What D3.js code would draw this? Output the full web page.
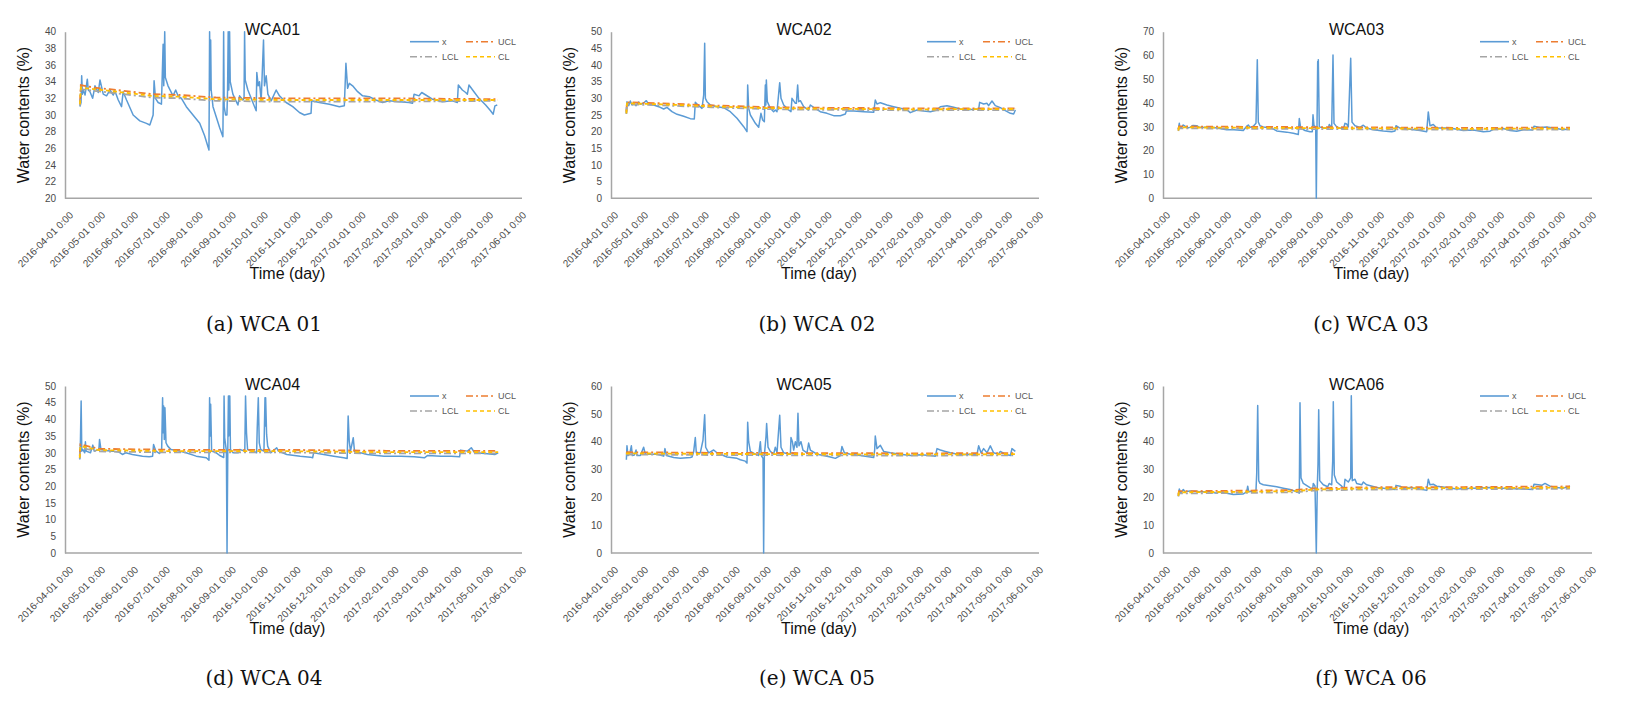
<!DOCTYPE html>
<html><head><meta charset="utf-8">
<script src="https://cdn.jsdelivr.net/npm/d3@7"></script>
<style>body{margin:0;background:#fff}svg{display:block}</style>
</head><body><svg id="c" width="1646" height="719"></svg>
<script>
// ---------- DATA (x = day offset from 2016-04-01 0:00, value = water content %) ----------
const monthLabels = ["2016-04-01 0:00","2016-05-01 0:00","2016-06-01 0:00","2016-07-01 0:00","2016-08-01 0:00","2016-09-01 0:00","2016-10-01 0:00","2016-11-01 0:00","2016-12-01 0:00","2017-01-01 0:00","2017-02-01 0:00","2017-03-01 0:00","2017-04-01 0:00","2017-05-01 0:00","2017-06-01 0:00"];
const titles = ["WCA01","WCA02","WCA03","WCA04","WCA05","WCA06"];
const captions = ["(a) WCA 01","(b) WCA 02","(c) WCA 03","(d) WCA 04","(e) WCA 05","(f) WCA 06"];
const legendNames = ["x","UCL","LCL","CL"];

const yTicks01 = [20,22,24,26,28,30,32,34,36,38,40];
const yTicks02 = [0,5,10,15,20,25,30,35,40,45,50];
const yTicks03 = [0,10,20,30,40,50,60,70];
const yTicks04 = [0,5,10,15,20,25,30,35,40,45,50];
const yTicks05 = [0,10,20,30,40,50,60];
const yTicks06 = [0,10,20,30,40,50,60];

const wca01 = [[12.2,31.0],[13.2,31.5],[13.8,34.7],[14.5,32.5],[15.3,33.0],[17,32.4],[19.1,34.3],[20,33.0],[21.6,32.8],[24.1,32.0],[26.3,33.5],[29.4,32.7],[31.0,34.2],[34.1,32.5],[37.2,32.3],[40.3,33.0],[43.5,32.4],[45.0,32.9],[48.2,31.8],[51.3,31.0],[52.8,32.8],[56.0,31.8],[62.2,30.0],[68.5,29.3],[74.7,29.0],[77.9,28.8],[81.0,30.0],[81.9,34.1],[83.2,32.0],[85.7,31.5],[88.8,31.3],[90.4,38.5],[91.0,33.5],[91.9,40.0],[92.5,34.5],[95.0,33.5],[99.7,32.3],[102.2,33.0],[104.4,32.3],[107.6,32.0],[112.2,31.0],[118.5,30.0],[124.8,29.0],[129.4,27.5],[133.5,25.8],[134.1,40.0],[134.6,33],[135.1,39.0],[135.6,33.0],[137.3,31.0],[143.5,28.5],[146.6,27.4],[147.0,33],[147.3,40.0],[147.8,31],[149.1,30.0],[150.4,30.0],[151.0,33],[151.6,40.0],[152.2,33],[152.9,40.0],[153.5,34.0],[156.0,32.5],[160.7,31.2],[162.3,32.3],[165.4,31.8],[166.5,32],[167.0,40.0],[167.6,34.2],[170.1,33.0],[173.2,32.0],[177.9,30.5],[178.5,35.1],[179.8,33.5],[181.0,34.0],[182.6,31.7],[184.8,39.0],[185.7,33.5],[187.3,34.7],[188.9,32.5],[192.0,31.7],[196.7,33.0],[199.8,32.3],[206.1,31.5],[212.3,31.0],[218.6,30.3],[223.2,30.0],[229.5,30.2],[230.1,31.7],[237.3,31.5],[246.7,31.3],[256.1,31.0],[260.8,31.1],[262.3,36.2],[263.9,33.2],[265.5,33.8],[268.6,33.5],[273.3,32.8],[278.0,32.3],[284.2,32.2],[290.5,31.8],[296.7,31.5],[303.0,31.7],[312.4,31.6],[321.7,31.5],[324.9,31.4],[326.4,32.5],[331.1,32.3],[333.6,32.7],[337.4,32.4],[343.6,31.9],[353.0,31.6],[362.4,31.7],[367.1,31.5],[368.0,33.6],[371.8,33.0],[374.9,32.7],[376.5,32.5],[378.0,33.6],[382.7,32.8],[387.4,32.0],[393.7,31.2],[398.3,30.5],[400.8,30.1],[402.4,31.1],[404.6,31.2]];
const wca02 = [[14.4,25.5],[15.0,29.0],[16.7,27.8],[18.4,29.2],[20.0,28.0],[21.7,28.7],[24.1,27.8],[26.7,28.9],[28.4,28.2],[31.7,28.6],[34.4,29.3],[36.8,28.2],[41.8,28.0],[46.8,27.5],[51.8,26.8],[55.1,27.3],[60.1,26.0],[65.2,25.2],[71.8,24.6],[78.5,23.9],[82.5,23.8],[83.5,28.8],[86.9,27.8],[90.2,27.0],[91.9,31.0],[92.9,46.5],[93.6,30.0],[95.2,29.0],[98.6,28.0],[105.2,27.5],[111.9,27.2],[118.6,26.0],[125.3,24.0],[132.0,21.5],[135.3,20.0],[136.0,34.0],[137.0,27.0],[138.7,25.0],[143.7,22.5],[147.0,21.3],[149.3,25.5],[151.0,23.5],[152.7,23.0],[153.7,34.0],[154.2,28],[154.7,35.5],[155.7,29.0],[158.7,27.0],[162.0,26.0],[163.7,26.5],[165.4,26.0],[168.1,34.7],[169.4,30.0],[172.1,28.0],[177.1,26.5],[179.4,26.0],[180.4,30.0],[183.8,28.5],[184.8,28.5],[186.1,34.0],[187.1,29.0],[188.8,29.3],[192.1,27.5],[197.1,26.5],[198.8,28.0],[202.1,27.3],[208.8,26.0],[215.5,25.5],[222.2,24.8],[228.9,24.8],[233.9,25.3],[234.9,26.2],[242.2,26.2],[252.3,26.0],[262.3,25.8],[263.9,29.5],[265.6,28.3],[269.0,28.7],[275.6,28.0],[282.3,27.5],[289.0,27.0],[295.7,26.5],[299.0,25.7],[305.7,26.5],[312.4,26.2],[319.1,26.0],[325.8,26.5],[329.1,27.5],[335.8,27.8],[342.5,27.3],[349.1,26.8],[355.8,26.5],[362.5,26.7],[367.5,26.7],[368.5,28.8],[372.5,28.3],[375.9,28.5],[377.5,27.8],[380.9,29.2],[384.2,27.8],[389.2,27.2],[394.3,26.3],[399.3,25.5],[402.6,25.3],[404.3,26.5]];
const wca03 = [[14.3,29.0],[15.3,31.5],[16.0,29.5],[17.7,29.8],[19,30.8],[21.0,30.3],[24,29.6],[26.0,29.8],[29,30.6],[32.7,30.5],[35,29.9],[39.3,29.8],[45,30.1],[52.7,29.5],[62.7,28.8],[70,28.8],[79.3,28.5],[82.7,30.3],[84.3,30.8],[86.0,29.8],[89.3,30.3],[92.0,31.5],[93.3,58.2],[94.3,32.0],[96.0,30.5],[99.3,30.0],[107.7,29.5],[112.7,28.3],[122.7,27.8],[129.3,27.3],[134.3,26.8],[135.3,33.5],[136.7,29.5],[141.0,28.5],[146.0,28.0],[148.3,28.0],[149.0,35.1],[150.0,30.5],[151.7,30.0],[152.3,0],[153.0,30.0],[153.7,57.5],[154.0,50],[154.3,58.2],[155.3,30.0],[159.3,29.5],[164.3,29.5],[165.3,31.0],[167.7,29.5],[169.0,60.2],[170.0,31.5],[172.7,30.0],[179.3,29.0],[181.0,31.5],[182.7,31.2],[184.3,30.0],[186.7,58.8],[188.0,32.0],[191.0,30.5],[196.0,29.8],[199.3,30.7],[202.7,29.5],[209.3,28.8],[219.3,28.3],[227.7,28.0],[231.0,28.3],[232.0,30.5],[236.0,29.5],[246.0,29.0],[256.0,28.5],[262.7,28.0],[264.3,36.3],[266.0,30.5],[269.3,31.0],[272.7,29.5],[286.0,29.5],[292.7,29.0],[299.3,28.5],[309.3,28.7],[319.3,28.0],[326.0,28.2],[329.3,29.0],[339.3,29.3],[346.0,28.5],[352.7,28.2],[359.3,28.8],[368.7,28.7],[370.0,30.3],[376.0,29.8],[382.7,30.0],[392.7,29.3],[399.3,28.8],[406.0,29.2]];
const wca04 = [[12.0,28.0],[12.6,33.0],[13.3,45.5],[13.9,30.5],[14.8,31.0],[16.7,30.0],[17.3,33.3],[18.0,30.5],[22.1,30.0],[24.3,32.3],[25.6,30.5],[30.0,31.0],[30.6,34.0],[31.9,31.0],[36.3,30.7],[42.6,30.5],[48.9,30.2],[52.1,29.5],[55.2,30.0],[61.5,29.5],[71.0,29.0],[77.3,28.8],[80.5,29.0],[81.4,32.5],[83.6,30.5],[86.8,29.8],[89.0,30.5],[89.9,46.5],[90.4,36],[90.9,44.0],[91.5,34],[92.1,43.5],[93.1,33.0],[94.7,32.0],[97.8,31.0],[105.7,30.5],[112.0,30.0],[121.5,29.0],[131.0,28.5],[133.5,27.8],[134.1,46.5],[134.6,35],[135.1,44.5],[136.0,30.5],[140.4,30.0],[143.6,29.2],[147.4,28.6],[147.7,47.0],[148.3,34.5],[149.9,30.5],[150.5,0],[151.2,30.5],[151.8,47.0],[152.1,35],[152.4,47.0],[153.1,47.0],[153.7,31.0],[156.2,30.0],[160.9,30.0],[162.5,31.0],[167.2,30.5],[167.9,47.0],[168.8,36.0],[169.8,31.0],[175.1,30.5],[178.3,30.0],[178.9,37.5],[179.9,46.5],[180.8,33.0],[182.1,31.0],[185.2,30.5],[186.2,46.5],[186.5,38],[186.8,46.5],[187.7,35.5],[188.7,32.0],[191.5,30.0],[197.2,31.5],[198.8,30.5],[206.7,29.5],[219.3,29.0],[228.8,28.7],[231.0,28.5],[231.9,30.0],[241.4,29.5],[250.9,29.0],[260.3,28.5],[263.5,28.3],[264.4,41.0],[265.4,33.5],[266.6,30.5],[269.2,34.5],[270.4,30.3],[276.1,30.0],[282.4,29.5],[298.2,29.0],[314.0,29.0],[326.6,28.8],[336.1,28.5],[339.2,29.2],[351.8,29.0],[361.3,29.0],[369.2,28.8],[370.1,30.8],[376.6,30.5],[380.2,31.5],[383.4,30.0],[392.9,29.8],[402.3,29.5],[405.5,30.0]];
const wca05 = [[14.4,33.5],[15.0,38.5],[16.0,35.0],[17.7,35.5],[19.4,38.5],[20.4,35.0],[22.4,35.2],[24.1,37.0],[25.1,35.0],[28.4,35.0],[31.7,38.0],[33.4,35.5],[38.4,35.5],[45.1,35.5],[51.8,34.8],[53.1,37.5],[54.5,35.0],[61.8,34.3],[68.5,34.0],[78.5,34.3],[80.2,34.5],[81.9,36.5],[83.5,41.5],[84.5,36.0],[88.5,36.0],[91.2,40.5],[92.9,49.7],[93.9,38.0],[96.9,36.0],[101.9,37.0],[105.2,36.0],[108.6,35.5],[115.3,34.5],[125.3,34.0],[128.6,33.5],[133.6,33.0],[135.3,32.3],[136.0,47.0],[137.0,40.0],[138.7,36.5],[143.7,35.5],[147.0,35.0],[148.7,40.0],[149.7,35.0],[151.4,34.0],[152.0,0],[152.7,35.0],[154.4,42.0],[155.0,46.5],[156.4,38.0],[158.7,36.5],[162.0,35.5],[163.7,38.0],[165.4,36.0],[168.1,49.5],[169.4,38.0],[172.1,36.0],[178.8,35.5],[179.4,41.5],[180.8,40.0],[182.1,37.0],[183.8,40.0],[185.4,38.0],[186.4,50.2],[187.4,38.5],[189.4,40.0],[191.4,37.0],[195.5,36.0],[197.1,39.5],[198.8,37.0],[205.5,35.5],[212.2,35.0],[218.8,34.5],[223.9,34.0],[228.9,35.0],[230.5,38.3],[232.9,36.0],[238.9,35.5],[248.9,35.0],[258.9,34.5],[262.3,34.3],[263.3,37.0],[263.9,42.0],[265.6,37.5],[269.0,38.7],[272.3,36.5],[279.0,36.0],[289.0,35.5],[299.0,35.0],[309.1,35.3],[319.1,35.0],[324.1,34.8],[325.8,37.5],[329.1,37.0],[334.1,36.5],[339.1,36.0],[349.1,35.3],[359.2,35.5],[365.8,35.3],[367.5,38.5],[369.9,36.0],[372.5,37.5],[375.9,36.0],[379.2,38.5],[382.5,36.0],[387.5,35.5],[389.2,36.5],[394.3,35.5],[399.3,35.0],[400.9,37.5],[404.3,36.5]];
const wca06 = [[14.3,20.5],[15.3,23.0],[16.7,21.5],[19.3,22.8],[21.0,22.0],[26.0,22.3],[36.0,22.0],[46.0,22.0],[52.7,21.5],[56.0,22.0],[62.7,21.5],[69.3,21.0],[79.3,21.2],[82.7,22.0],[83.7,24.0],[84.7,22.0],[89.3,22.3],[92.0,22.5],[92.7,28.5],[93.7,53.0],[94.7,26.0],[96.0,25.0],[99.3,24.5],[106.0,24.2],[112.7,23.8],[119.3,23.3],[126.0,22.8],[132.7,22.0],[135.3,21.5],[136.0,54.0],[137.0,27.0],[139.3,25.0],[146.0,23.5],[148.7,23.0],[149.3,25.0],[151.0,24.0],[152.3,0],[153.3,24.0],[154.0,32.0],[154.7,51.5],[155.7,26.0],[159.3,24.5],[163.7,23.8],[165.3,25.0],[167.7,24.5],[168.7,33.0],[169.3,54.3],[170.3,28.0],[172.7,25.5],[177.7,24.0],[180.0,23.0],[181.0,26.5],[184.3,25.5],[186.7,27.0],[187.3,56.5],[188.3,26.0],[191.0,26.5],[192.7,25.0],[197.7,24.5],[199.3,25.5],[202.7,24.5],[212.7,23.5],[226.0,23.0],[231.0,22.8],[232.0,24.3],[236.0,24.0],[239.3,23.3],[246.0,23.5],[256.0,23.0],[262.7,22.5],[264.3,26.5],[266.0,24.5],[269.3,24.7],[272.7,24.0],[282.7,23.5],[292.7,23.0],[309.3,23.3],[326.0,23.5],[342.7,23.2],[359.3,23.0],[368.7,22.8],[370.0,24.7],[374.3,24.5],[377.7,24.3],[381.0,25.0],[386.0,24.0],[392.7,23.5],[399.3,23.3],[406.0,24.0]];

// control limits (day offsets and values)
const limDays01 = [12.2,13.0,25,40,60,80,106,140,200,300,405];
const cl01  = [31.3,33.3,33.1,32.9,32.6,32.3,32.2,31.9,31.8,31.8,31.8];
const ucl01 = [31.6,33.6,33.3,33.1,32.8,32.5,32.4,32.1,32.0,32.0,31.9];
const lcl01 = [31.1,33.1,32.9,32.7,32.4,32.1,32.0,31.7,31.6,31.6,31.7];
const limDays02 = [14.4,15,50,100,150,200,300,405];
const cl02  = [25.5,28.5,28.2,27.6,27.1,26.9,26.7,26.8];
const ucl02 = [26.0,28.8,28.5,27.9,27.4,27.2,27.0,27.0];
const lcl02 = [25.3,28.2,27.9,27.3,26.8,26.6,26.4,26.5];
const limDays03 = [14.3,15,100,200,300,406];
const cl03  = [28.5,29.8,29.6,29.4,29.2,29.3];
const ucl03 = [29.0,30.2,30.0,29.8,29.6,29.7];
const lcl03 = [28.3,29.4,29.2,29.0,28.8,28.9];
const limDays04 = [12,12.6,30,100,200,300,405.5];
const cl04  = [28.5,32.0,30.8,30.5,30.5,30.2,30.2];
const ucl04 = [29.0,32.5,31.2,30.9,30.9,30.6,30.6];
const lcl04 = [28.2,31.5,30.4,30.1,30.1,29.8,29.8];
const limDays05 = [14.4,15,100,200,300,404];
const cl05  = [35.5,35.8,35.6,35.5,35.4,35.5];
const ucl05 = [36.0,36.2,36.0,35.9,35.8,35.9];
const lcl05 = [35.2,35.4,35.2,35.1,35.0,35.1];
const limDays06 = [14.3,15,80,130,150,200,300,406];
const cl06  = [20.5,21.8,22.0,22.2,22.8,23.2,23.3,23.5];
const ucl06 = [21.0,22.2,22.4,22.6,23.2,23.6,23.7,23.9];
const lcl06 = [20.3,21.4,21.6,21.8,22.4,22.8,22.9,23.1];

// ---------- DRAWING ----------
const panels = [
  {x:wca01, lim:limDays01, cl:cl01, ucl:ucl01, lcl:lcl01, ticks:yTicks01},
  {x:wca02, lim:limDays02, cl:cl02, ucl:ucl02, lcl:lcl02, ticks:yTicks02},
  {x:wca03, lim:limDays03, cl:cl03, ucl:ucl03, lcl:lcl03, ticks:yTicks03},
  {x:wca04, lim:limDays04, cl:cl04, ucl:ucl04, lcl:lcl04, ticks:yTicks04},
  {x:wca05, lim:limDays05, cl:cl05, ucl:ucl05, lcl:lcl05, ticks:yTicks05},
  {x:wca06, lim:limDays06, cl:cl06, ucl:ucl06, lcl:lcl06, ticks:yTicks06}
];
const cols = [{x0:65, r0:67, r1:520, cap:264}, {x0:611, r0:612, r1:1037, cap:817}, {x0:1163, r0:1164, r1:1590, cap:1371}];
const rows = [{top:31.7, bot:198.3, capY:331}, {top:386, bot:553, capY:685}];

const start = Date.UTC(2016,3,1);
const toDate = d => new Date(start + d*864e5);
const monthDates = monthLabels.map(s => new Date(Date.UTC(+s.slice(0,4), +s.slice(5,7)-1, 1)));
const svg = d3.select("#c");
const SANS = "'Liberation Sans', Arial, sans-serif";
const NARROW = "'Liberation Sans Narrow', 'Liberation Sans', Arial, sans-serif";
const colors = {x:"#5B9BD5", UCL:"#ED7D31", LCL:"#A5A5A5", CL:"#FFC000"};
const dashes = {x:null, UCL:"7,3,2,3", LCL:"7,3,2,3", CL:"4,3"};

panels.forEach((p, i) => {
  const c = cols[i % 3], r = rows[Math.floor(i / 3)];
  const g = svg.append("g");
  const x = d3.scaleUtc().domain([monthDates[0], monthDates[monthDates.length-1]]).range([c.r0, c.r1]);
  const y = d3.scaleLinear().domain([p.ticks[0], p.ticks[p.ticks.length-1]]).range([r.bot, r.top]);

  // axes
  const ya = g.append("g").attr("transform", `translate(${c.x0},0)`)
    .call(d3.axisLeft(y).tickValues(p.ticks).tickSize(0).tickPadding(9));
  ya.select(".domain").attr("stroke", "#a6a6a6").attr("stroke-width", 1.5);
  ya.selectAll("text").attr("font-family", SANS).attr("font-size", 10).attr("fill", "#4a4a4a");

  const xa = g.append("g").attr("transform", `translate(0,${r.bot})`)
    .call(d3.axisBottom(x).tickValues(monthDates).tickFormat((d, k) => monthLabels[k]).tickSize(0).tickSizeOuter(0));
  xa.select(".domain").attr("stroke", "#a6a6a6").attr("stroke-width", 1.5)
    .attr("d", `M${c.x0},0H${c.r1 + 2}`);
  xa.selectAll("text").attr("font-family", SANS).attr("font-size", 10).attr("fill", "#4a4a4a")
    .attr("text-anchor", "end").attr("x", 0).attr("y", 0).attr("dy", "0.35em")
    .attr("transform", "translate(4,15) rotate(-45)");

  // series
  const line = d3.line().x(d => x(toDate(d[0]))).y(d => y(d[1]));
  const limLine = arr => p.lim.map((d, k) => [d, arr[k]]);
  g.append("path").datum(p.x).attr("d", line).attr("fill", "none")
    .attr("stroke", colors.x).attr("stroke-width", 1.5).attr("stroke-linejoin", "round");
  [["UCL", p.ucl], ["LCL", p.lcl], ["CL", p.cl]].forEach(([nm, arr]) => {
    g.append("path").datum(limLine(arr)).attr("d", line).attr("fill", "none")
      .attr("stroke", colors[nm]).attr("stroke-width", 1.8).attr("stroke-dasharray", dashes[nm]);
  });

  // title
  g.append("text").attr("x", (c.x0 + c.r1) / 2 - 20).attr("y", r.top + 3.5)
    .attr("text-anchor", "middle").attr("font-family", SANS).attr("font-size", 16)
    .attr("fill", "#111").text(titles[i]);
  // y label
  g.append("text").attr("transform", `translate(${c.x0 - 42},${(r.top + r.bot) / 2}) rotate(-90)`)
    .attr("text-anchor", "middle").attr("dy", "0.35em").attr("font-family", SANS).attr("font-size", 16)
    .attr("fill", "#111").text("Water contents (%)");
  // x label
  g.append("text").attr("x", (c.x0 + c.r1) / 2 - 5).attr("y", r.bot + 81)
    .attr("text-anchor", "middle").attr("font-family", SANS).attr("font-size", 16)
    .attr("fill", "#111").text("Time (day)");

  // legend
  const legPos = [[c.r1 - 110, r.top + 10], [c.r1 - 54, r.top + 10], [c.r1 - 110, r.top + 25], [c.r1 - 54, r.top + 25]];
  legendNames.forEach((nm, k) => {
    const [lx, ly] = legPos[k];
    g.append("line").attr("x1", lx).attr("x2", lx + 29).attr("y1", ly).attr("y2", ly)
      .attr("stroke", colors[nm]).attr("stroke-width", 1.6).attr("stroke-dasharray", dashes[nm]);
    g.append("text").attr("x", lx + 32).attr("y", ly).attr("dy", "0.35em")
      .attr("font-family", NARROW).attr("font-size", 9).attr("fill", "#595959").text(nm);
  });

  // caption
  svg.append("text").attr("x", c.cap).attr("y", r.capY).attr("text-anchor", "middle")
    .attr("font-family", "'DejaVu Serif', 'Liberation Serif', serif").attr("font-size", 20)
    .attr("fill", "#111").style("white-space", "pre").text(captions[i]);
});
</script>
</body></html>
